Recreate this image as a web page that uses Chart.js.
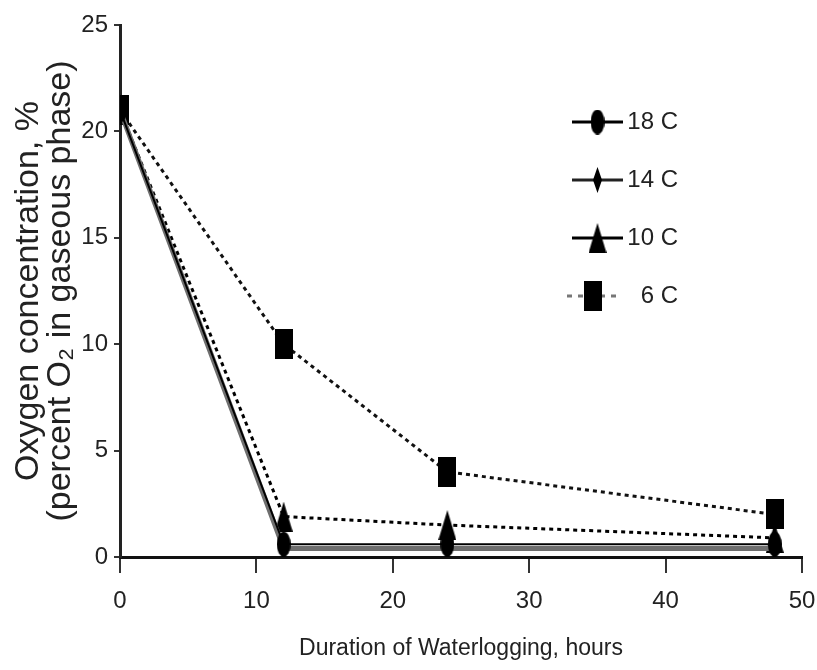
<!DOCTYPE html>
<html>
<head>
<meta charset="utf-8">
<title>Oxygen concentration during waterlogging</title>
<script src="https://cdn.jsdelivr.net/npm/chart.js@4.4.1/dist/chart.umd.min.js"></script>
<style>
  html, body { margin: 0; padding: 0; background: #fff; }
  #wrap { width: 817px; height: 670px; }
</style>
</head>
<body>
<div id="wrap"><canvas id="o2Chart"></canvas></div>
<script>
// values
const hours = [0, 12, 24, 48];
const o2At18 = [21, 0.6, 0.6, 0.6];
const o2At14 = [21, 0.4, 0.4, 0.4];
const o2At10 = [21, 1.9, 1.5, 0.9];
const o2At6 = [21, 10, 4, 2];
const seriesLabels = ["18 C", "14 C", "10 C", "6 C"];
const xTicks = [0, 10, 20, 30, 40, 50];
const yTicks = [0, 5, 10, 15, 20, 25];

const plain = "'Liberation Sans', Arial, sans-serif";

// little black marker images, the symbols in the figure are tall and thin
function marker(shape, w, h) {
  const c = document.createElement("canvas");
  c.width = w;
  c.height = h;
  const g = c.getContext("2d");
  g.fillStyle = "#000";
  g.beginPath();
  if (shape === "ellipse") {
    g.ellipse(w / 2, h / 2, w / 2, h / 2, 0, 0, Math.PI * 2);
  } else if (shape === "diamond") {
    g.moveTo(w / 2, 0); g.lineTo(w, h / 2); g.lineTo(w / 2, h); g.lineTo(0, h / 2);
    g.closePath();
  } else if (shape === "triangle") {
    g.moveTo(w / 2, 0); g.lineTo(w, h); g.lineTo(0, h);
    g.closePath();
  } else {
    g.rect(0, 0, w, h);
  }
  g.fill();
  return c;
}

const pts = xs => ys => xs.map((x, i) => ({ x: x, y: ys[i] }));
const onHours = pts(hours);

// legend drawn inside the plot, upper right
const innerLegend = {
  id: "innerLegend",
  afterDatasetsDraw(chart, args, opts) {
    const ctx = chart.ctx;
    ctx.save();
    chart.data.datasets.forEach((ds, i) => {
      const y = opts.top + i * opts.rowGap;
      const x0 = opts.left - (ds.legendShift || 0);
      ctx.strokeStyle = ds.legendColor || ds.borderColor;
      ctx.lineWidth = 3;
      ctx.setLineDash(ds.legendDash || []);
      ctx.beginPath();
      ctx.moveTo(x0, y);
      ctx.lineTo(x0 + opts.lineLen, y);
      ctx.stroke();
      ctx.setLineDash([]);
      Chart.helpers.drawPoint(ctx, { pointStyle: ds.pointStyle, radius: 6, rotation: 0, borderWidth: 0 },
        x0 + opts.lineLen / 2, y);
      ctx.fillStyle = "#222";
      ctx.font = opts.fontSize + "px " + plain;
      ctx.textAlign = "right";
      ctx.textBaseline = "middle";
      ctx.fillText(ds.label, opts.textRight, y);
    });
    ctx.restore();
  }
};

new Chart(document.getElementById("o2Chart"), {
  type: "line",
  data: {
    datasets: [
      {
        label: seriesLabels[0],
        data: onHours(o2At18),
        borderColor: "#000",
        borderWidth: 2,
        pointStyle: marker("ellipse", 14, 25)
      },
      {
        label: seriesLabels[1],
        data: onHours(o2At14),
        borderColor: "#6e6e6e",
        legendColor: "#222",
        borderWidth: 5,
        pointStyle: marker("diamond", 9, 26)
      },
      {
        label: seriesLabels[2],
        data: onHours(o2At10),
        borderColor: "#000",
        borderWidth: 3,
        borderDash: [4, 4],
        pointStyle: marker("triangle", 18, 30)
      },
      {
        label: seriesLabels[3],
        data: onHours(o2At6),
        borderColor: "#111",
        borderWidth: 3,
        borderDash: [4, 4],
        legendDash: [5, 6],
        legendColor: "#777",
        legendShift: 5,
        pointStyle: marker("rect", 18, 30)
      }
    ]
  },
  options: {
    responsive: true,
    maintainAspectRatio: false,
    animation: false,
    layout: { padding: { top: 25, right: 15, left: 0, bottom: 0 } },
    plugins: {
      legend: { display: false },
      tooltip: { enabled: false },
      innerLegend: { left: 572, lineLen: 51, top: 122, rowGap: 58, textRight: 678, fontSize: 24 }
    },
    scales: {
      x: {
        type: "linear",
        min: xTicks[0],
        max: xTicks[xTicks.length - 1],
        ticks: { stepSize: xTicks[1] - xTicks[0], color: "#222", font: { family: plain, size: 24 }, padding: 14 },
        grid: { drawOnChartArea: false, drawTicks: true, tickLength: 16, color: "#333", lineWidth: 2 },
        border: { display: true, color: "#111", width: 3 },
        title: {
          display: true,
          text: "Duration of Waterlogging, hours",
          color: "#222",
          font: { family: plain, size: 23 },
          padding: { top: 0, bottom: 8 }
        },
        afterFit(scale) {
          scale.height = 113;
          // the "50" label fits inside the right margin, do not shrink the plot for it
          scale.paddingRight = 0;
        }
      },
      y: {
        min: yTicks[0],
        max: yTicks[yTicks.length - 1],
        ticks: { stepSize: yTicks[1] - yTicks[0], color: "#222", font: { family: plain, size: 24 }, padding: 6 },
        grid: { drawOnChartArea: false, drawTicks: true, tickLength: 6, color: "#333", lineWidth: 2 },
        border: { display: true, color: "#222", width: 3 },
        title: {
          display: true,
          text: ["Oxygen concentration, %", "(percent O\u2082 in gaseous phase)"],
          color: "#222",
          font: { family: plain, size: 34, lineHeight: 0.95 },
          padding: { top: 12, bottom: 0 }
        },
        afterFit(scale) { scale.width = 120; }
      }
    }
  },
  plugins: [innerLegend]
});
</script>
</body>
</html>
